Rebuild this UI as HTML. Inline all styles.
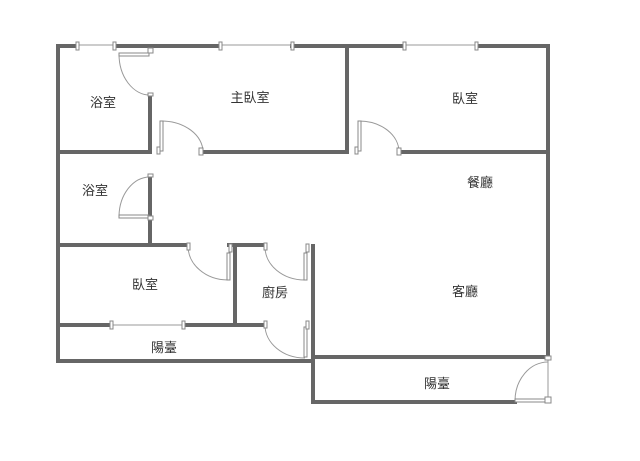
<!DOCTYPE html><html><head><meta charset="utf-8"><style>body{margin:0;background:#fff}svg{display:block}text{font-family:"Liberation Sans","Noto Sans CJK TC",sans-serif;font-size:13px;fill:#333;text-anchor:middle}</style></head><body>
<svg width="640" height="461" viewBox="0 0 640 461">
<g stroke="#666" stroke-width="4" fill="none" stroke-linecap="square">
<path d="M58 46V361H313M58 46H76M115 46H220M292 46H404M477 46H548V357"/>
<path d="M150 95V152M150 176V245M58 152H150M203 152H347V46M400 152H548"/>
<path d="M58 245H188M235 245V323M229 245H265M313 246V402M58 325H110M184 325H265"/>
<path d="M313 357H548M313 402H515"/>
</g>
<g stroke="#999" stroke-width="1" fill="none">
<path d="M78 45H114M222 45H291M406 45H476"/>
<path d="M548 357V402"/>
<path d="M112 325H182"/>
<path d="M150 95A31 41 0 0 1 119 54"/>
<path d="M161 121A42 31 0 0 1 203 152"/>
<path d="M359 121A40 31 0 0 1 399 152"/>
<path d="M150 177A31 40 0 0 0 119 216"/>
<path d="M188 246A40 34 0 0 0 228 280"/>
<path d="M265 247A40 33 0 0 0 305 280"/>
<path d="M265 325A40 33 0 0 0 305 358"/>
<path d="M548 362A33 39 0 0 0 515 401"/>
</g>
<g fill="#fff" stroke="#888" stroke-width="1">
<rect x="76" y="42" width="3" height="8"/><rect x="113" y="42" width="3" height="8"/>
<rect x="219" y="42" width="3" height="8"/><rect x="291" y="42" width="3" height="8"/>
<rect x="403" y="42" width="3" height="8"/><rect x="475" y="42" width="3" height="8"/>
<rect x="110" y="321" width="3" height="8"/><rect x="182" y="321" width="3" height="8"/>
<rect x="119" y="53" width="30" height="3"/><rect x="148" y="48" width="5" height="5"/><rect x="148" y="93" width="5" height="3"/>
<rect x="160" y="121" width="3" height="30"/><rect x="157" y="147" width="3" height="7"/><rect x="199" y="148" width="4" height="7"/>
<rect x="358" y="121" width="3" height="30"/><rect x="355" y="147" width="3" height="7"/><rect x="397" y="148" width="4" height="7"/>
<rect x="119" y="215" width="30" height="3"/><rect x="148" y="216" width="5" height="4"/><rect x="148" y="174" width="5" height="3"/>
<rect x="227" y="253" width="3" height="27"/><rect x="229" y="244" width="3" height="8"/><rect x="187" y="243" width="3" height="7"/>
<rect x="304" y="253" width="3" height="27"/><rect x="306" y="244" width="3" height="8"/><rect x="264" y="243" width="3" height="7"/>
<rect x="304" y="327" width="3" height="30"/><rect x="306" y="321" width="3" height="8"/><rect x="264" y="321" width="3" height="7"/>
<rect x="515" y="399" width="31" height="3"/><rect x="545" y="397" width="6" height="6"/><rect x="545" y="356" width="6" height="4"/>
</g>
<text x="103" y="107">浴室</text>
<text x="250" y="102">主臥室</text>
<text x="465" y="103">臥室</text>
<text x="95" y="195">浴室</text>
<text x="480" y="187">餐廳</text>
<text x="145" y="289">臥室</text>
<text x="275" y="297">廚房</text>
<text x="465" y="296">客廳</text>
<text x="164" y="352">陽臺</text>
<text x="437" y="388">陽臺</text>
</svg></body></html>
